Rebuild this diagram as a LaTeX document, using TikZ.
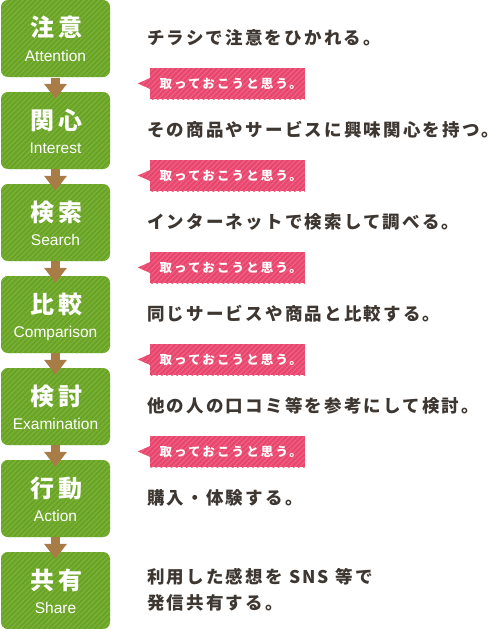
\documentclass[tikz,border=0pt]{standalone}
\usepackage{fontspec}
\setmainfont{Liberation Sans}
\newfontfamily\jptitle{Noto Sans CJK JP}[LetterSpace=16]
\newfontfamily\jpdesc{Noto Sans CJK JP}[LetterSpace=12.5]
\newfontfamily\jplab{Noto Sans CJK JP}[LetterSpace=17]
\usetikzlibrary{patterns.meta,calc,arrows.meta}
\definecolor{grn}{HTML}{6AA425}
\definecolor{grnl}{HTML}{7CB23D}
\definecolor{pnk}{HTML}{E8466C}
\definecolor{pnkl}{HTML}{EE6286}
\definecolor{brn}{HTML}{A87C47}
\definecolor{txt}{HTML}{3D3631}
\begin{document}
\begin{tikzpicture}[x=1pt,y=-1pt,
  stagebox/.style={draw=none, rounded corners=7pt, minimum width=109pt, minimum height=77pt, inner sep=0pt,
    preaction={fill=grn}, pattern={Lines[angle=45,distance=3.6pt,line width=1.1pt]}, pattern color=grnl},
  labbox/.style={draw=none, minimum width=155pt, minimum height=31pt, inner sep=0pt,
    preaction={fill=pnk}, pattern={Lines[angle=45,distance=3.6pt,line width=1.1pt]}, pattern color=pnkl},
  labtip/.style={preaction={fill=pnk}, pattern={Lines[angle=45,distance=3.6pt,line width=1.1pt]}, pattern color=pnkl},
  ttl/.style={anchor=base, inner sep=0pt, text=white, font={\jptitle\bfseries\fontsize{24pt}{24pt}\selectfont}},
  eng/.style={anchor=base, inner sep=0pt, text=white, font={\fontsize{15.5pt}{15.5pt}\selectfont}},
  desc/.style={anchor=base west, inner sep=0pt, text=txt, font={\jpdesc\bfseries\fontsize{17.5pt}{17.5pt}\selectfont}},
  labtxt/.style={anchor=base west, inner sep=0pt, text=white, font={\jplab\bfseries\fontsize{12.5pt}{12.5pt}\selectfont}},
  flow/.style={draw=brn, line width=9pt, -{Triangle[width=22pt,length=15pt]}}
]
\useasboundingbox (0,0) rectangle (502,629);

% stage boxes
\node[stagebox] (b1) at (55.5,38.5) {};
\node[stagebox] (b2) at (55.5,130.5) {};
\node[stagebox] (b3) at (55.5,222.5) {};
\node[stagebox] (b4) at (55.5,314.5) {};
\node[stagebox] (b5) at (55.5,406.5) {};
\node[stagebox] (b6) at (55.5,498.5) {};
\node[stagebox] (b7) at (55.5,590.5) {};

% titles
\foreach \b/\j/\e in {b1/注意/Attention, b2/関心/Interest, b3/検索/Search, b4/比較/Comparison, b5/検討/Examination, b6/行動/Action, b7/共有/Share}{
  \node[ttl] (\b j) at ($(\b.north)+(1,37.2)$) {\j};
  \node[eng] (\b e) at ($(\b.north)+(0,62)$) {\e};
}

% arrows
\draw[flow] (b1.south) -- ($(b2.north)+(0,7)$);
\draw[flow] (b2.south) -- ($(b3.north)+(0,7)$);
\draw[flow] (b3.south) -- ($(b4.north)+(0,7)$);
\draw[flow] (b4.south) -- ($(b5.north)+(0,7)$);
\draw[flow] (b5.south) -- ($(b6.north)+(0,7)$);
\draw[flow] (b6.south) -- ($(b7.north)+(0,7)$);

% labels
\foreach \i/\y in {1/83.5, 2/175.5, 3/267.5, 4/359.5, 5/451.5}{
  \node[labbox] (l\i) at (227.5,\y) {};
  \fill[labtip] ($(l\i.west)+(-12,0)$) -- ($(l\i.west)+(0.5,-5.5)$) -- ($(l\i.west)+(0.5,5.5)$) -- cycle;
  \node[labtxt] (l\i t) at ($(l\i.west)+(9.5,4.8)$) {取っておこうと思う。};
}

% descriptions
\node[desc] (d1) at ($(b1.north)+(91.5,44.8)$) {チラシで注意をひかれる。};
\node[desc] (d2) at ($(b2.north)+(91.5,44.8)$) {その商品やサービスに興味関心を持つ。};
\node[desc] (d3) at ($(b3.north)+(91.5,44.8)$) {インターネットで検索して調べる。};
\node[desc] (d4) at ($(b4.north)+(91.5,44.8)$) {同じサービスや商品と比較する。};
\node[desc] (d5) at ($(b5.north)+(91.5,44.8)$) {他の人の口コミ等を参考にして検討。};
\node[desc] (d6) at ($(b6.north)+(91.5,44.8)$) {購入・体験する。};
\node[desc] (d7a) at ($(b7.north)+(91.5,31.8)$) {利用した感想を SNS 等で};
\node[desc] (d7b) at ($(b7.north)+(91.5,57.3)$) {発信共有する。};
\end{tikzpicture}
\end{document}
